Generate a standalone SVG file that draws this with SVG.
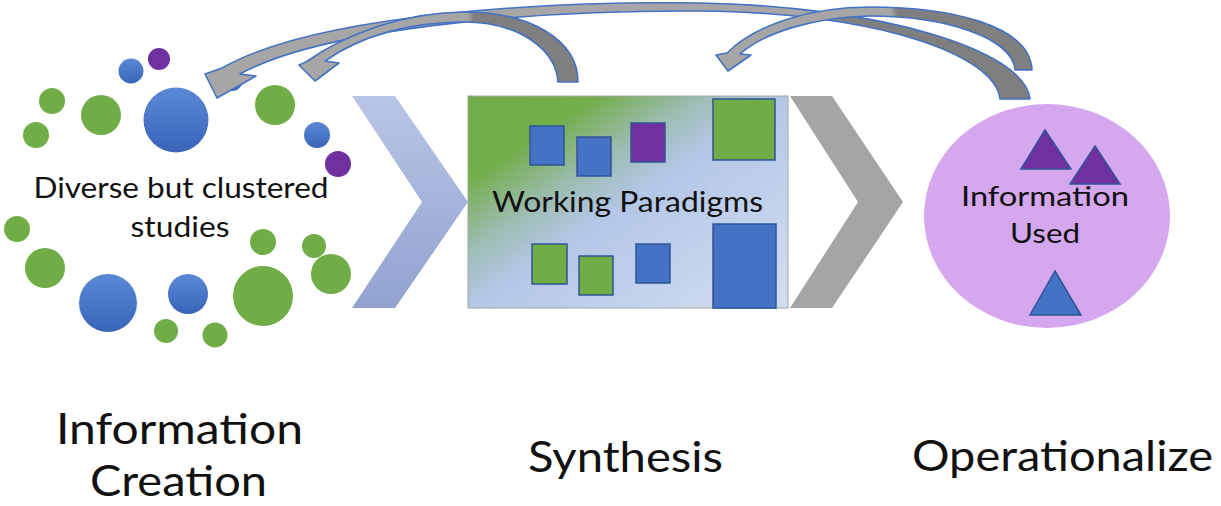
<svg xmlns="http://www.w3.org/2000/svg" width="1221" height="506" viewBox="0 0 1221 506">
<defs>
<style>
.t{font-family:Lato,"Open Sans","Liberation Sans",sans-serif;fill:#111;}
.g{fill:#70ad47;}
.b{fill:url(#blueGrad);}
.p{fill:#7030a0;}
.sq{stroke:#2f5597;stroke-width:1.5;}
.arr{stroke:#4472c4;stroke-width:1.6;stroke-linejoin:round;}
</style>
<linearGradient id="blueGrad" x1="0" y1="0" x2="0" y2="1">
<stop offset="0" stop-color="#5b88d6"/>
<stop offset="1" stop-color="#3865b8"/>
</linearGradient>
<linearGradient id="chevL" x1="0" y1="0" x2="0" y2="1">
<stop offset="0" stop-color="#b9c5e7"/>
<stop offset="1" stop-color="#92a2cf"/>
</linearGradient>
<linearGradient id="boxGrad" x1="0" y1="0" x2="1" y2="1">
<stop offset="0" stop-color="#70ad47"/>
<stop offset="0.2" stop-color="#72ae4a"/>
<stop offset="0.36" stop-color="#9cbcb0"/>
<stop offset="0.5" stop-color="#b4c7e7"/>
<stop offset="1" stop-color="#d3def2"/>
</linearGradient>
<linearGradient id="arrA" gradientUnits="userSpaceOnUse" x1="300" y1="0" x2="580" y2="0">
<stop offset="0.6" stop-color="#a6a6a6"/>
<stop offset="0.62" stop-color="#7f7f7f"/>
</linearGradient>
<linearGradient id="arrB" gradientUnits="userSpaceOnUse" x1="200" y1="0" x2="1035" y2="0">
<stop offset="0.75" stop-color="#a6a6a6"/>
<stop offset="0.77" stop-color="#7f7f7f"/>
</linearGradient>
<linearGradient id="arrC" gradientUnits="userSpaceOnUse" x1="715" y1="0" x2="1035" y2="0">
<stop offset="0.55" stop-color="#a6a6a6"/>
<stop offset="0.57" stop-color="#7f7f7f"/>
</linearGradient>
</defs>

<g id="information-creation">
<circle class="b" cx="232" cy="80" r="11"/>
<circle class="p" cx="159" cy="59" r="11"/>
<circle class="b" cx="131" cy="71" r="12.5"/>
<circle class="g" cx="52" cy="101" r="13"/>
<circle class="g" cx="101" cy="115" r="20"/>
<circle class="b" cx="176" cy="120" r="32.5"/>
<circle class="g" cx="36" cy="135" r="13"/>
<circle class="g" cx="275" cy="105" r="20"/>
<circle class="b" cx="317" cy="135" r="13"/>
<circle class="p" cx="338" cy="164" r="13"/>
<circle class="g" cx="17" cy="229" r="13"/>
<circle class="g" cx="45" cy="268" r="20"/>
<circle class="b" cx="108" cy="303" r="29"/>
<circle class="b" cx="188" cy="294" r="20"/>
<circle class="g" cx="263" cy="296" r="30"/>
<circle class="g" cx="263" cy="242" r="13"/>
<circle class="g" cx="314" cy="246" r="12"/>
<circle class="g" cx="331" cy="274" r="20"/>
<circle class="g" cx="166" cy="331" r="12"/>
<circle class="g" cx="215" cy="335" r="12.5"/>
<text class="t" x="181" y="198" font-size="28" text-anchor="middle" textLength="295" lengthAdjust="spacingAndGlyphs">Diverse but clustered</text>
<text class="t" x="180" y="237" font-size="28" text-anchor="middle" textLength="99" lengthAdjust="spacingAndGlyphs">studies</text>
</g>

<g id="chevron-1">
<polygon points="352,96 395,96 468,202 395,308 352,308 422,202" fill="url(#chevL)"/>
</g>

<g id="synthesis">
<rect x="468" y="96" width="320" height="212" fill="url(#boxGrad)" stroke="#a6a6a6" stroke-width="1"/>
<rect class="sq" x="530" y="126" width="34" height="39" fill="#4472c4"/>
<rect class="sq" x="577" y="137" width="34" height="39" fill="#4472c4"/>
<rect class="sq" x="631" y="123" width="34" height="39" fill="#7030a0"/>
<rect class="sq" x="713" y="99" width="62" height="61" fill="#70ad47"/>
<rect class="sq" x="532" y="244" width="35" height="40" fill="#70ad47"/>
<rect class="sq" x="579" y="256" width="34" height="39" fill="#70ad47"/>
<rect class="sq" x="636" y="244" width="34" height="39" fill="#4472c4"/>
<rect class="sq" x="713" y="224" width="63" height="84" fill="#4472c4"/>
<text class="t" x="492" y="212" font-size="29" textLength="271" lengthAdjust="spacingAndGlyphs">Working Paradigms</text>
</g>

<g id="chevron-2">
<polygon points="790,96 832,96 903,202 832,308 790,308 858,202" fill="#a5a5a5"/>
</g>

<g id="operationalize">
<ellipse cx="1047" cy="216" rx="123" ry="112" fill="#d4a7ef"/>
<polygon class="sq" points="1045,130 1071,169 1021,169" fill="#7030a0"/>
<polygon class="sq" points="1095,146 1120,184 1070,184" fill="#7030a0"/>
<polygon class="sq" points="1055,271 1081,315 1030,315" fill="#4472c4"/>
<text class="t" x="961" y="206" font-size="26" textLength="168" lengthAdjust="spacingAndGlyphs">Information</text>
<text class="t" x="1045" y="243" font-size="26" text-anchor="middle" textLength="70" lengthAdjust="spacingAndGlyphs">Used</text>
</g>

<g id="connectors">
<path id="arrow-b" class="arr" fill="url(#arrB)" d="M1000,99 L1030,99 C1025,50 880,6 700,3 C560,1 320,12 222,68 L205,74 L217,98 L256,76 L240,74 C320,30 520,10 700,11 C880,13 995,55 1000,99 Z"/>
<path id="arrow-a" class="arr" fill="url(#arrA)" d="M558,82 L578,82 C578,40 530,12 465,12 C405,12 345,34 306,62 L299,65 L315,81 L339,63 L325,61 C360,36 410,22 463,22 C520,22 556,50 558,82 Z"/>
<path id="arrow-c" class="arr" fill="url(#arrC)" d="M1015,70 L1032,70 C1030,25 950,7 870,7 C810,7 755,25 727,53 L716,55 L728,71 L751,55 L740,54 C765,32 815,17 870,16 C945,16 1013,38 1015,70 Z"/>
</g>

<g id="labels">
<text class="t" x="56" y="444" font-size="42" textLength="247" lengthAdjust="spacingAndGlyphs">Information</text>
<text class="t" x="90" y="496" font-size="42" textLength="177" lengthAdjust="spacingAndGlyphs">Creation</text>
<text class="t" x="528" y="472" font-size="42" textLength="195" lengthAdjust="spacingAndGlyphs">Synthesis</text>
<text class="t" x="912" y="471" font-size="42" textLength="301" lengthAdjust="spacingAndGlyphs">Operationalize</text>
</g>
</svg>
